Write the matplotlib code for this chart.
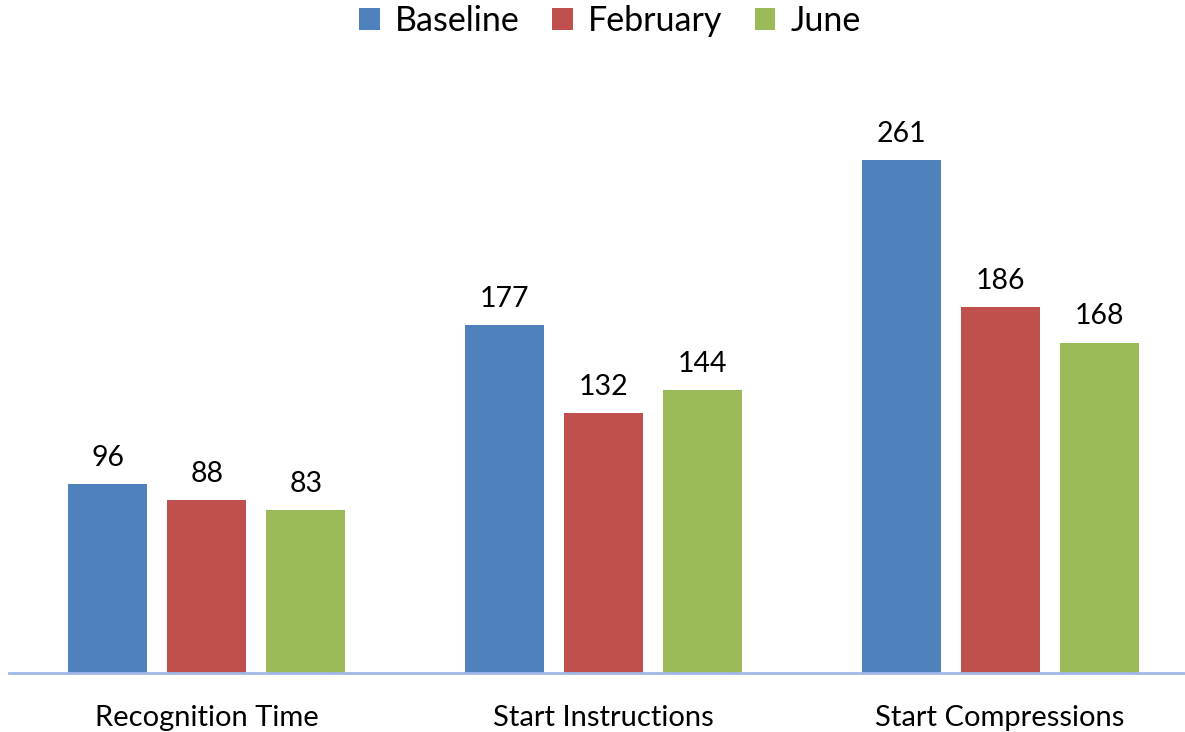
import matplotlib.pyplot as plt
import numpy as np

plt.rcParams['font.family'] = ['Lato', 'DejaVu Sans']

categories = ["Recognition Time", "Start Instructions", "Start Compressions"]
series = ["Baseline", "February", "June"]
baseline = [96, 177, 261]
february = [88, 132, 186]
june = [83, 144, 168]
colors = ["#4F81BD", "#C0504D", "#9BBB59"]

fig = plt.figure(figsize=(11.85, 7.32), dpi=100)
# axes spans 8.5px .. 1198.5px horizontally, baseline at y=673
ax = fig.add_axes([8.5 / 1185, (732 - 673) / 732, 1190 / 1185, (673 - 83) / 732])

x = np.arange(len(categories))
w = 79 / 397
step = 99 / 397
for i, (vals, name, c) in enumerate(zip([baseline, february, june], series, colors)):
    bars = ax.bar(x + (i - 1) * step, vals, width=w, color=c, label=name)
    for b, v in zip(bars, vals):
        ax.annotate(str(v), (b.get_x() + b.get_width() / 2, v), xytext=(0, 9.5),
                    textcoords="offset points", ha="center", va="bottom", fontsize=20.5)

ax.set_xlim(-0.5, 2.5)
ax.set_ylim(0, 300)
ax.set_xticks(x)
ax.set_xticklabels(categories, fontsize=21)
ax.tick_params(axis="x", length=0, pad=23)
ax.set_yticks([])
for s in ["top", "right", "left"]:
    ax.spines[s].set_visible(False)
ax.spines["bottom"].set_color("#A0B8E8")
ax.spines["bottom"].set_linewidth(2)
ax.spines["bottom"].set_clip_on(False)

fig.legend(loc="upper center", bbox_to_anchor=(610 / 1185, 1.035), ncol=3, frameon=False,
           fontsize=24.5, handlelength=0.6, handleheight=0.6, handletextpad=0.45,
           columnspacing=0.95)

fig.savefig("out.png", dpi=100)
